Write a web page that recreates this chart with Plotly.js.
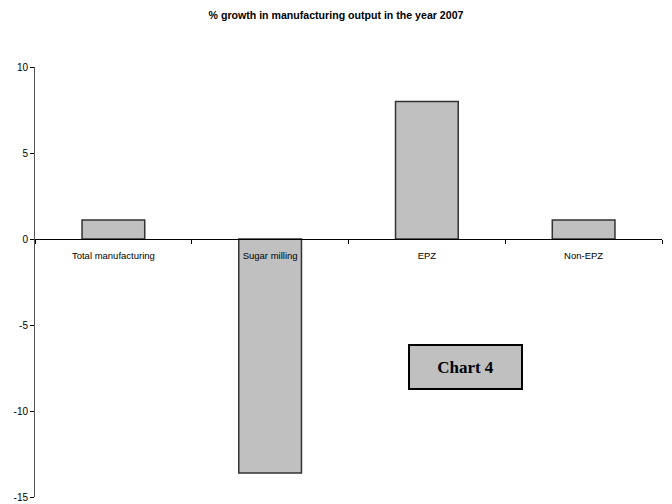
<!DOCTYPE html>
<html>
<head>
<meta charset="utf-8">
<script src="https://cdn.plot.ly/plotly-3.0.1.min.js"></script>
<style>html,body{margin:0;padding:0;background:#fff;}#chart{width:672px;height:504px;}</style>
</head>
<body>
<div id="chart"></div>
<script>
var categories = ["Total manufacturing", "Sugar milling", "EPZ", "Non-EPZ"];
var growth = [1.1, -13.6, 8.0, 1.1];
var yTickVals = [-15, -10, -5, 0, 5, 10];
var yTickText = ["-15", "-10", "-5", "0", "5", "10"];
var chartTitle = "% growth in manufacturing output in the year 2007";
var boxLabel = "Chart 4";

var narrow = "'Liberation Sans Narrow', 'Arial Narrow', 'Liberation Sans', Arial, sans-serif";

var trace = {
  type: "bar",
  x: categories,
  y: growth,
  width: 0.4,
  marker: { color: "#c0c0c0", line: { color: "#333333", width: 1.5 } },
  hoverinfo: "none"
};

var layout = {
  width: 672,
  height: 504,
  margin: { l: 35, r: 10, t: 67, b: 7 },
  paper_bgcolor: "#ffffff",
  plot_bgcolor: "#ffffff",
  showlegend: false,
  title: {
    text: "<b>" + chartTitle + "</b>",
    font: { family: narrow, size: 10.6, color: "#000" },
    x: 0.5, xanchor: "center",
    y: 0.97, yanchor: "middle", yref: "container"
  },
  xaxis: {
    type: "category",
    anchor: "free",
    position: 0.6,
    showline: true,
    linecolor: "#000",
    linewidth: 1,
    showgrid: false,
    zeroline: false,
    ticks: "outside",
    tickson: "boundaries",
    ticklen: 4,
    tickcolor: "#000",
    ticklabelstandoff: 8,
    tickfont: { family: narrow, size: 9.5, color: "#000" },
    fixedrange: true
  },
  yaxis: {
    range: [-15, 10],
    tickvals: yTickVals,
    ticktext: yTickText,
    showline: true,
    linecolor: "#555",
    linewidth: 1,
    showgrid: false,
    zeroline: false,
    ticks: "outside",
    ticklen: 4,
    tickcolor: "#000",
    tickfont: { family: narrow, size: 10, color: "#000" },
    fixedrange: true
  },
  annotations: [{
    text: "<b>" + boxLabel + "</b>",
    xref: "paper", yref: "paper",
    x: 0.6866, y: 0.302,
    xanchor: "center", yanchor: "middle",
    showarrow: false,
    width: 111, height: 42,
    bgcolor: "#c0c0c0",
    bordercolor: "#000",
    borderwidth: 2,
    borderpad: 0,
    font: { family: "'Liberation Serif', 'Times New Roman', serif", size: 17, color: "#000" }
  }]
};

Plotly.newPlot("chart", [trace], layout, { displayModeBar: false, staticPlot: true });
</script>
</body>
</html>
